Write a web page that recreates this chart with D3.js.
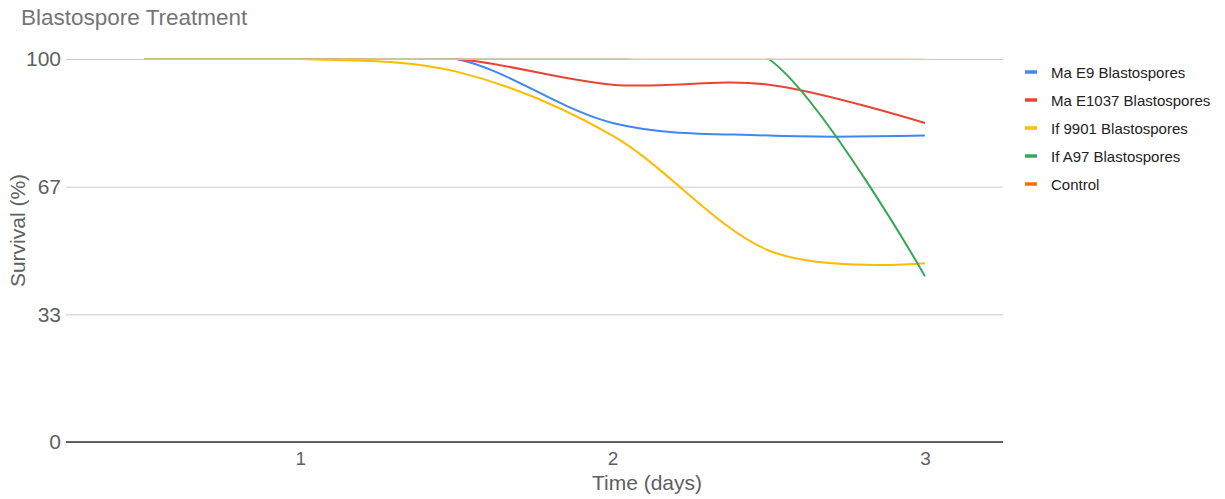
<!DOCTYPE html>
<html>
<head>
<meta charset="utf-8">
<script src="https://cdn.jsdelivr.net/npm/d3@7"></script>
<style>
  html, body { margin: 0; padding: 0; background: #fff; }
  svg { display: block; font-family: "Liberation Sans", Arial, sans-serif; }
</style>
</head>
<body>
<svg id="chart" width="1225" height="499"></svg>
<script>
// Sampling times (days) and survival (%) for each treatment
const days = [0.5, 1, 1.5, 2, 2.5, 3];
const maE9 = [100, 100, 100, 83.3, 80, 80];
const maE1037 = [100, 100, 100, 93.3, 93.3, 83.3];
const if9901 = [100, 100, 96.7, 80, 50, 46.7];
const ifA97 = [100, 100, 100, 100, 100, 43.3];
const control = [100, 100, 100, 100, 100, 100];

const seriesNames = ["Ma E9 Blastospores", "Ma E1037 Blastospores", "If 9901 Blastospores", "If A97 Blastospores", "Control"];
const seriesValues = [maE9, maE1037, if9901, ifA97, control];
const seriesColors = ["#4285f4", "#ea4335", "#fbbc04", "#34a853", "#ff6d01"];

const xTicks = [1, 2, 3];
const yTicks = [0, 33.33, 66.67, 100];
const yTickLabels = ["0", "33", "67", "100"];

const svg = d3.select("#chart");
const plotLeft = 66, plotRight = 1003, plotTop = 59, plotBottom = 442;

const x = d3.scaleLinear().domain([0.25, 3.25]).range([plotLeft, plotRight]);
const y = d3.scaleLinear().domain([0, 100]).range([plotBottom, plotTop]);

// Title
svg.append("text")
  .attr("x", 21).attr("y", 25)
  .attr("font-size", 22.5).attr("fill", "#757575")
  .text("Blastospore Treatment");

// Gridlines and y labels
const yAxis = d3.axisLeft(y).tickValues(yTicks).tickSize(-(plotRight - plotLeft))
  .tickFormat((d, i) => yTickLabels[i]).tickPadding(5);
const gy = svg.append("g").attr("transform", `translate(${plotLeft},0)`).call(yAxis);
gy.select(".domain").remove();
gy.selectAll(".tick line").attr("stroke", "#cccccc").attr("stroke-width", 1);
gy.selectAll(".tick text")
  .attr("font-size", 21).attr("fill", "#5f5f5f")
  .attr("font-family", "Liberation Sans, Arial, sans-serif");

// Baseline
svg.append("line")
  .attr("x1", plotLeft).attr("x2", plotRight)
  .attr("y1", y(0)).attr("y2", y(0))
  .attr("stroke", "#333333").attr("stroke-width", 1.3);

// X labels
const xAxis = d3.axisBottom(x).tickValues(xTicks).tickSize(0).tickPadding(10).tickFormat(d3.format("d"));
const gx = svg.append("g").attr("transform", `translate(0,${plotBottom})`).call(xAxis);
gx.select(".domain").remove();
gx.selectAll(".tick text")
  .attr("font-size", 19).attr("fill", "#5f5f5f")
  .attr("font-family", "Liberation Sans, Arial, sans-serif");

// Axis titles
svg.append("text")
  .attr("x", 647).attr("y", 490)
  .attr("text-anchor", "middle")
  .attr("font-size", 21).attr("fill", "#5f5f5f")
  .text("Time (days)");

svg.append("text")
  .attr("transform", `translate(25,${(plotTop + plotBottom) / 2 - 20}) rotate(-90)`)
  .attr("text-anchor", "middle")
  .attr("font-size", 21).attr("fill", "#5f5f5f")
  .text("Survival (%)");

// Plot area clipping
svg.append("clipPath").attr("id", "plot-clip")
  .append("rect")
  .attr("x", plotLeft).attr("y", plotTop - 0.5)
  .attr("width", plotRight - plotLeft).attr("height", plotBottom - plotTop + 2);

const line = d3.line()
  .x((d, i) => x(days[i]))
  .y(d => y(d))
  .curve(d3.curveCardinal.tension(0));

const plot = svg.append("g").attr("clip-path", "url(#plot-clip)");
seriesValues.forEach((vals, i) => {
  const isControl = i === seriesValues.length - 1;
  if (isControl) {
    // light backing so the translucent control line reads as a soft orange
    plot.append("path")
      .datum(vals)
      .attr("fill", "none")
      .attr("stroke", "#ffffff")
      .attr("stroke-opacity", 0.85)
      .attr("stroke-width", 2)
      .attr("d", line);
  }
  plot.append("path")
    .datum(vals)
    .attr("fill", "none")
    .attr("stroke", seriesColors[i])
    .attr("stroke-width", 2)
    .attr("stroke-opacity", isControl ? 0.42 : 1)
    .attr("d", line);
});

// Legend
const legend = svg.append("g").attr("transform", "translate(1025,72)");
seriesNames.forEach((name, i) => {
  const row = legend.append("g").attr("transform", `translate(0,${i * 28})`);
  row.append("line")
    .attr("x1", 0).attr("x2", 12)
    .attr("y1", 0).attr("y2", 0)
    .attr("stroke", seriesColors[i]).attr("stroke-width", 3.5);
  row.append("text")
    .attr("x", 26).attr("y", 5.5)
    .attr("font-size", 15).attr("fill", "#222222")
    .text(name);
});
</script>
</body>
</html>
